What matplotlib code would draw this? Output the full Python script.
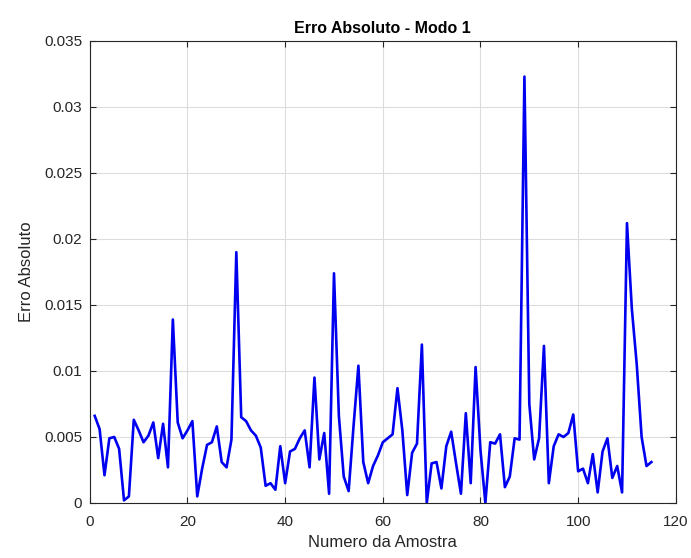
import matplotlib
matplotlib.use('Agg')
import matplotlib.pyplot as plt

# absolute error for each sample
amostra = list(range(1, 116))
erro = [
    0.0066, 0.0056, 0.0021, 0.0049, 0.0050, 0.0041, 0.0002, 0.0005, 0.0063, 0.0055,
    0.0046, 0.0051, 0.0061, 0.0034, 0.0060, 0.0027, 0.0139, 0.0061, 0.0049, 0.0055,
    0.0062, 0.0005, 0.0026, 0.0044, 0.0046, 0.0058, 0.0031, 0.0027, 0.0048, 0.0190,
    0.0065, 0.0062, 0.0055, 0.0051, 0.0042, 0.0013, 0.0015, 0.0010, 0.0043, 0.0015,
    0.0039, 0.0041, 0.0049, 0.0055, 0.0027, 0.0095, 0.0033, 0.0053, 0.0007, 0.0174,
    0.0066, 0.0020, 0.0009, 0.0058, 0.0104, 0.0031, 0.0015, 0.0028, 0.0036, 0.0046,
    0.0049, 0.0052, 0.0087, 0.0055, 0.0006, 0.0038, 0.0045, 0.0120, 0.0000, 0.0030,
    0.0031, 0.0011, 0.0043, 0.0054, 0.0030, 0.0007, 0.0068, 0.0015, 0.0103, 0.0040,
    0.0000, 0.0046, 0.0045, 0.0052, 0.0012, 0.0020, 0.0049, 0.0048, 0.0323, 0.0075,
    0.0033, 0.0049, 0.0119, 0.0015, 0.0043, 0.0052, 0.0050, 0.0053, 0.0067, 0.0024,
    0.0026, 0.0015, 0.0037, 0.0008, 0.0039, 0.0049, 0.0019, 0.0028, 0.0008, 0.0212,
    0.0147, 0.0105, 0.0050, 0.0028, 0.0031,
]

x_ticks = [0, 20, 40, 60, 80, 100, 120]
y_ticks = [0, 0.005, 0.01, 0.015, 0.02, 0.025, 0.03, 0.035]
y_labels = ['0', '0.005', '0.01', '0.015', '0.02', '0.025', '0.03', '0.035']

plt.rcParams['font.family'] = ['Liberation Sans', 'DejaVu Sans']
eixo = '#262626'

fig = plt.figure(figsize=(6.91, 5.58), dpi=100)
ax = fig.add_axes([0.130, 0.0986, 0.848, 0.828])

ax.plot(amostra, erro, color='#0000f0', linewidth=1.9)

ax.set_xlim(0, 120)
ax.set_ylim(0, 0.035)
ax.set_xticks(x_ticks)
ax.set_yticks(y_ticks)
ax.set_yticklabels(y_labels)

ax.grid(True, color='#dcdcdc', linewidth=0.8)
ax.set_axisbelow(True)
ax.tick_params(direction='in', top=True, right=True, length=4,
               labelsize=11, colors=eixo, width=0.8)
ax.tick_params(axis='x', pad=9)
ax.tick_params(axis='y', pad=5.5)
for s in ax.spines.values():
    s.set_color(eixo)
    s.set_linewidth(0.8)

ax.set_title('Erro Absoluto - Modo 1', fontsize=11.5, fontweight='bold',
             color='black', pad=6)
ax.set_xlabel('Numero da Amostra', fontsize=12, color=eixo, labelpad=4)
ax.set_ylabel('Erro Absoluto', fontsize=12, color=eixo, labelpad=7)

fig.savefig('out.png', dpi=100, facecolor='white')
